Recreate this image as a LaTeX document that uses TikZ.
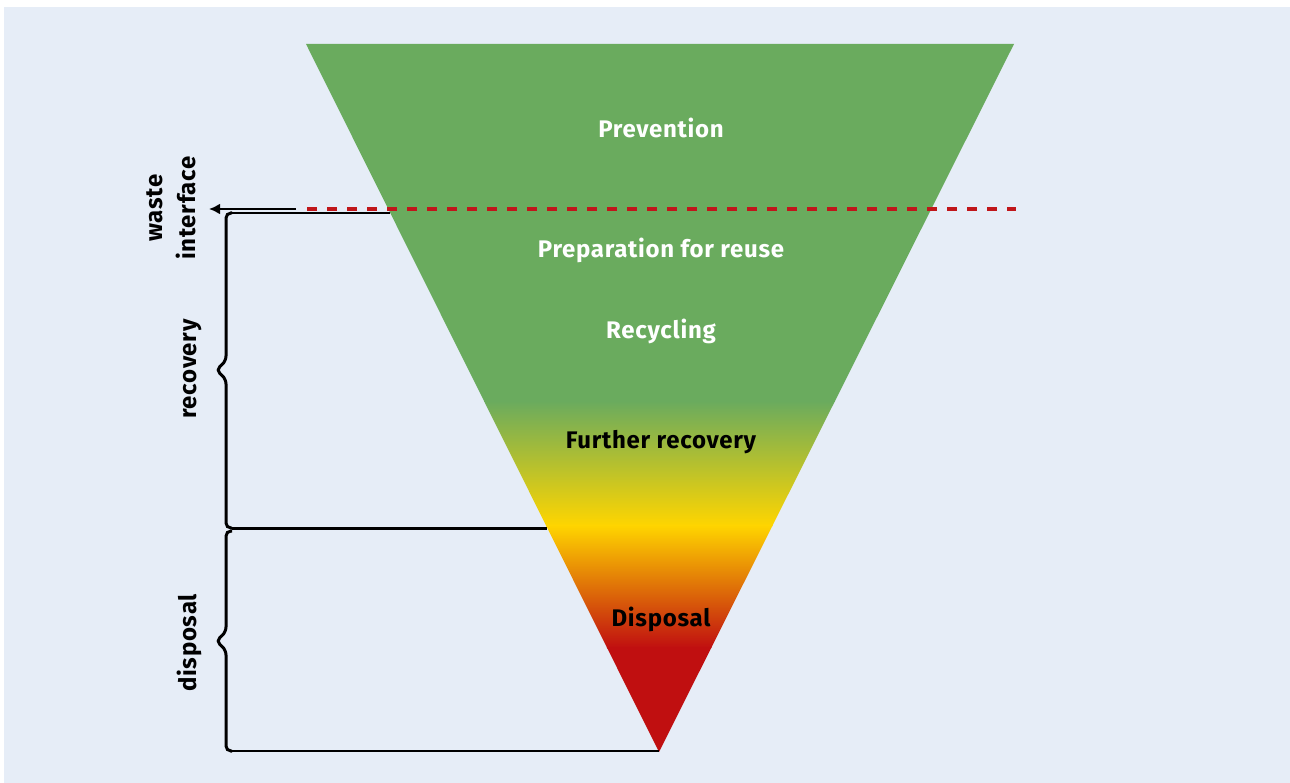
\documentclass[tikz,border=0pt]{standalone}
\usepackage{fontspec}
\setmainfont{Fira Sans}[LetterSpace=3]
\usepackage{tikz}
\usetikzlibrary{arrows.meta,positioning,calc}
\definecolor{bgblue}{HTML}{E6EDF7}
\definecolor{hgreen}{HTML}{6AAB5E}
\definecolor{hgold}{HTML}{FFD500}
\definecolor{horange}{HTML}{E27A00}
\definecolor{hred}{HTML}{C00F10}
\definecolor{dashred}{HTML}{C0161A}
\tikzset{
  tiertext/.style={align=center, inner sep=1pt, font=\fontsize{24}{28}\selectfont\bfseries},
  sidetext/.style={align=center, inner sep=1pt, rotate=90, font=\fontsize{24}{33}\selectfont\bfseries},
  bracket/.style={line width=3pt, rounded corners=5pt},
  thinline/.style={line width=2pt},
  thickline/.style={line width=3pt},
  arrow/.style={-{Latex[length=11pt,width=11pt]}, line width=2.6pt},
  interface/.style={draw=dashred, line width=4pt, dash pattern=on 10pt off 10pt, dash phase=16pt}
}
\begin{document}
\begin{tikzpicture}[x=1pt,y=-1pt]
\useasboundingbox (0,0) rectangle (1290,783);
\fill[bgblue] (4,7) rectangle (1290,783);
% hierarchy triangle
\coordinate (tl) at (306,44);
\coordinate (tr) at (1014,44);
\coordinate (apex) at (659,752);
\begin{scope}
\clip (tl) -- (tr) -- (apex) -- cycle;
\fill[hgreen] (300,40) rectangle (1020,402);
\shade[top color=hgreen, bottom color=hgold] (300,401) rectangle (1020,526);
\shade[top color=hgold, middle color=horange, bottom color=hred] (300,525) rectangle (1020,648);
\fill[hred] (300,647) rectangle (1020,760);
\end{scope}
\node[tiertext, text=white] (prev) at (661,128) {Prevention};
\node[tiertext, text=white] (reuse) at (661,250) {Preparation for reuse};
\node[tiertext, text=white] (recyc) at (661,331) {Recycling};
\node[tiertext] (further) at (661,442) {Further recovery};
\node[tiertext] (disp) at (661,619) {Disposal};
% interface line
\coordinate (ifL) at (303,209);
\coordinate (ifR) at (1016,209);
\coordinate (arrS) at (296,209);
\coordinate (arrE) at (209,209);
\draw[interface] (ifL) -- (ifR);
\draw[arrow] (arrS) -- (arrE);
% brackets
\coordinate (e1) at ($(tl)!0.2387!(apex)$);
\coordinate (e2) at ($(tl)!0.6822!(apex)$);
\coordinate (b1) at (232,213);
\coordinate (b2) at (232,528);
\coordinate (b3) at (232,531);
\coordinate (b4) at (232,751);
\draw[thinline] (b1) -- (e1 |- b1);
\draw[thickline] (b2) -- (e2 |- b2);
\draw[thinline] (b4) -- (apex |- b4);
\draw[bracket] (b1) -- (226,213) -- (226,361) -- (216,370) -- (226,379) -- (226,528) -- (b2);
\draw[bracket] (b3) -- (226,531) -- (226,632) -- (216,641) -- (226,650) -- (226,751) -- (b4);
\node[sidetext] (waste) at (171,208) {waste\\interface};
\node[sidetext] (recov) at (193,369) {recovery};
\node[sidetext] (dispo) at (189,643) {disposal};
\end{tikzpicture}
\end{document}
